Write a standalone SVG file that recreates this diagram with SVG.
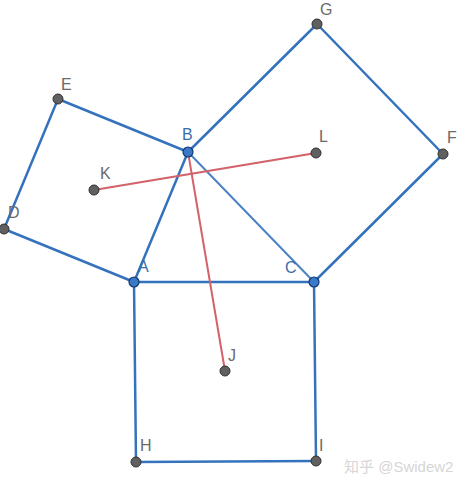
<svg xmlns="http://www.w3.org/2000/svg" width="461" height="486" viewBox="0 0 461 486">
<style>
.sq{stroke:#3572bd;stroke-width:2.5;fill:none;stroke-linecap:round}
.thin{stroke:#4a82c4;stroke-width:2;fill:none}
.red{stroke:#d4626a;stroke-width:2;fill:none}
.pt{fill:#606060;stroke:#303030;stroke-width:1}
.bp{fill:#3a78c8;stroke:#103870;stroke-width:1.2}
.lb{font-family:"Liberation Sans",Arial,sans-serif;font-size:16px;fill:#6a6a6a}
.lbb{font-family:"Liberation Sans",Arial,sans-serif;font-size:16px;fill:#3a6ea8}
.wm{font-family:"Liberation Sans","Noto Sans CJK SC",sans-serif;font-size:15px;fill:#d6d6d6}
</style>
<rect width="461" height="486" fill="#fff"/>
<g id="connectors">
<line class="sq" x1="134" y1="282" x2="188" y2="152"/>
<line class="sq" x1="188" y1="152" x2="58" y2="99"/>
<line class="sq" x1="58" y1="99" x2="4" y2="229"/>
<line class="sq" x1="4" y1="229" x2="134" y2="282"/>
<line class="sq" x1="188" y1="152" x2="317" y2="24"/>
<line class="sq" x1="317" y1="24" x2="443" y2="154"/>
<line class="sq" x1="443" y1="154" x2="314" y2="282"/>
<line class="thin" x1="314" y1="282" x2="188" y2="152"/>
<line class="sq" x1="134" y1="282" x2="314" y2="282"/>
<line class="sq" x1="314" y1="282" x2="316" y2="461"/>
<line class="sq" x1="316" y1="461" x2="136" y2="462"/>
<line class="sq" x1="136" y1="462" x2="134" y2="282"/>
<line class="red" x1="94" y1="190" x2="316" y2="153"/>
<line class="red" x1="188" y1="152" x2="225" y2="371"/>
</g>
<g id="G"><circle class="pt" cx="317" cy="24" r="5"/><text class="lb" x="320" y="15">G</text></g>
<g id="F"><circle class="pt" cx="443" cy="154" r="5"/><text class="lb" x="447" y="143">F</text></g>
<g id="E"><circle class="pt" cx="58" cy="99" r="5"/><text class="lb" x="61" y="90">E</text></g>
<g id="D"><circle class="pt" cx="4" cy="229" r="5"/><text class="lb" x="8" y="218">D</text></g>
<g id="L"><circle class="pt" cx="316" cy="153" r="5"/><text class="lb" x="319" y="142">L</text></g>
<g id="K"><circle class="pt" cx="94" cy="190" r="5"/><text class="lb" x="100" y="179">K</text></g>
<g id="J"><circle class="pt" cx="225" cy="371" r="5"/><text class="lb" x="228" y="361">J</text></g>
<g id="H"><circle class="pt" cx="136" cy="462" r="5"/><text class="lb" x="140" y="451">H</text></g>
<g id="I"><circle class="pt" cx="316" cy="461" r="5"/><text class="lb" x="319" y="451">I</text></g>
<g id="B"><circle class="bp" cx="188" cy="152" r="5"/><text class="lbb" x="182" y="140">B</text></g>
<g id="A"><circle class="bp" cx="134" cy="282" r="5"/><text class="lbb" x="138" y="272">A</text></g>
<g id="C"><circle class="bp" cx="314" cy="282" r="5"/><text class="lbb" x="285" y="273">C</text></g>
<text class="wm" x="344" y="472">知乎 @Swidew2</text>
</svg>
